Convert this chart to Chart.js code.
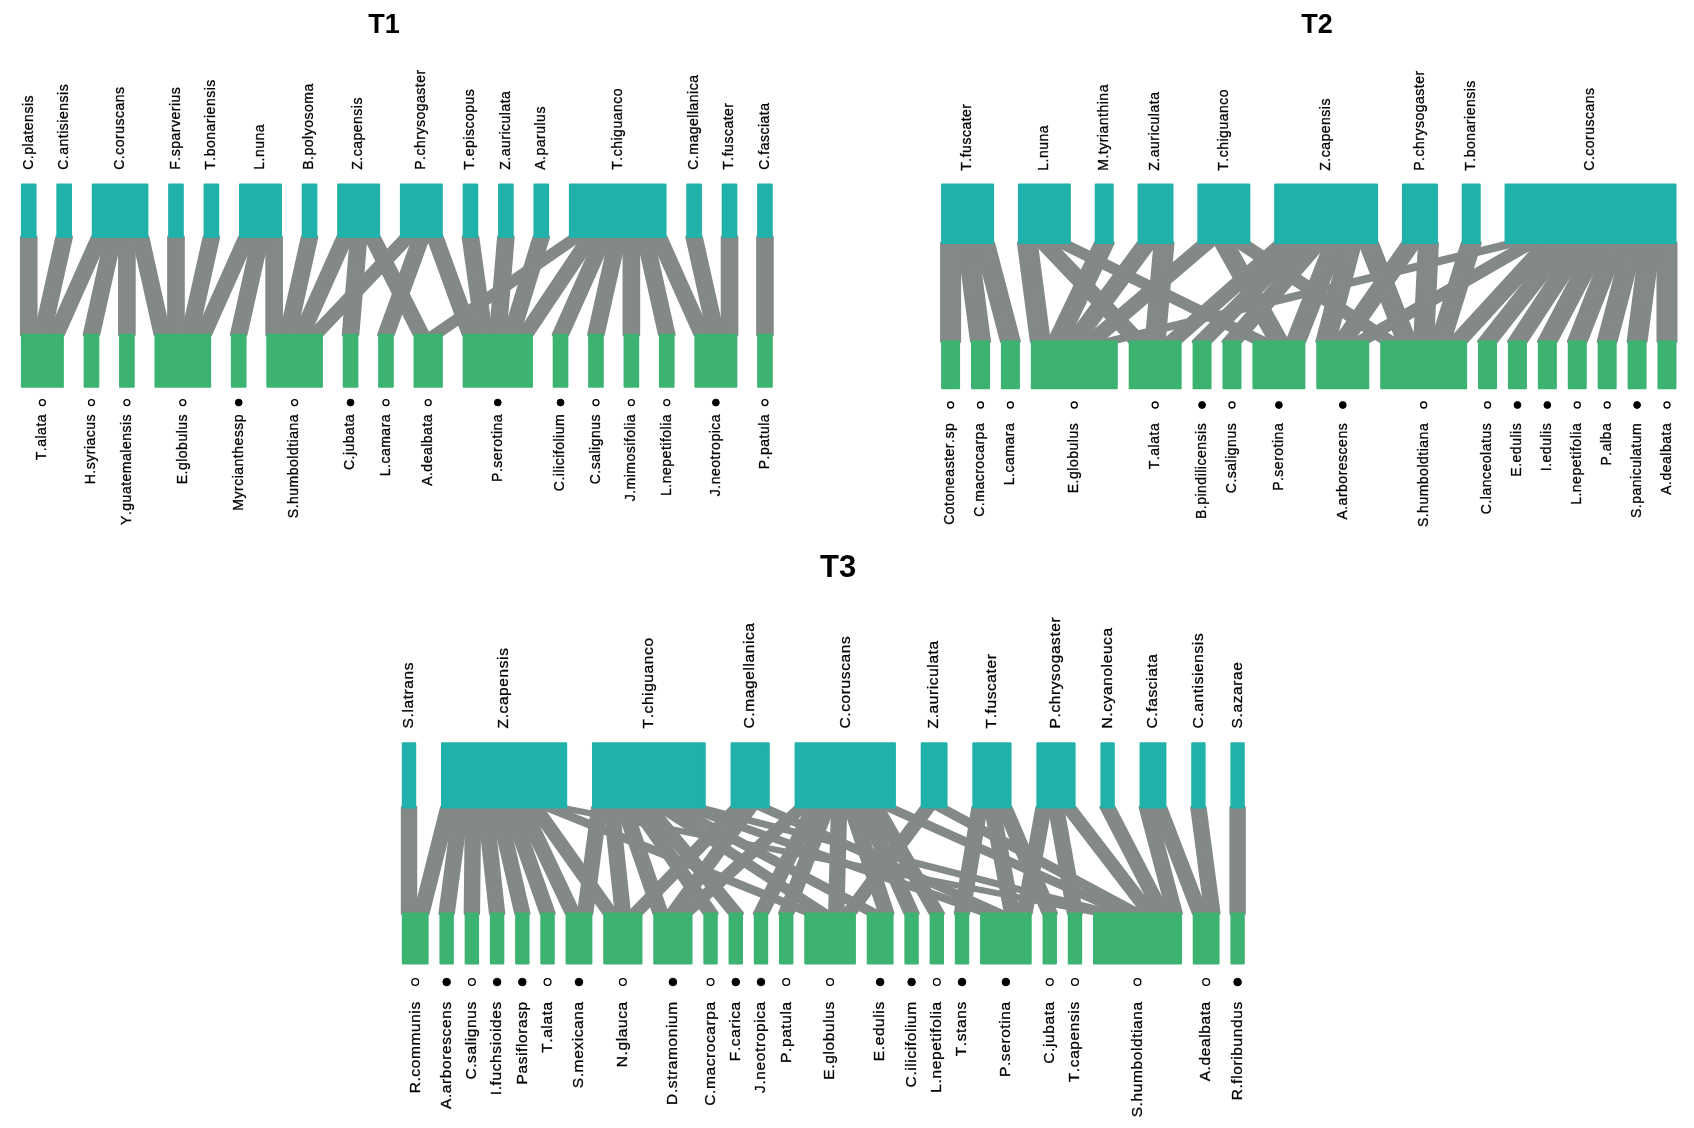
<!DOCTYPE html>
<html>
<head>
<meta charset="utf-8">
<title>Bipartite webs T1-T3</title>
<script src="https://cdn.jsdelivr.net/npm/chart.js@4.4.0/dist/chart.umd.min.js"></script>
<style>
  html, body { margin: 0; padding: 0; background: #ffffff; }
  canvas { display: block; }
</style>
</head>
<body>
<canvas id="web" width="1694" height="1128"></canvas>
<script>
// ---------------- T1 ----------------
const t1Upper = ["C.platensis", "C.antisiensis", "C.coruscans", "F.sparverius", "T.bonariensis", "L.nuna",
  "B.polyosoma", "Z.capensis", "P.chrysogaster", "T.episcopus", "Z.auriculata", "A.parulus",
  "T.chiguanco", "C.magellanica", "T.fuscater", "C.fasciata"];
const t1Lower = ["T.alata", "H.syriacus", "Y.guatemalensis", "E.globulus", "Myrcianthessp", "S.humboldtiana",
  "C.jubata", "L.camara", "A.dealbata", "P.serotina", "C.ilicifolium", "C.salignus", "J.mimosifolia",
  "L.nepetifolia", "J.neotropica", "P.patula"];
const t1LowerFilled = [0, 0, 0, 0, 1, 0, 1, 0, 0, 1, 1, 0, 0, 0, 1, 0];
const t1Links = [
  ["C.platensis", ["T.alata"]],
  ["C.antisiensis", ["T.alata"]],
  ["C.coruscans", ["T.alata", "H.syriacus", "Y.guatemalensis", "E.globulus"]],
  ["F.sparverius", ["E.globulus"]],
  ["T.bonariensis", ["E.globulus"]],
  ["L.nuna", ["E.globulus", "Myrcianthessp", "S.humboldtiana"]],
  ["B.polyosoma", ["S.humboldtiana"]],
  ["Z.capensis", ["S.humboldtiana", "C.jubata", "A.dealbata"]],
  ["P.chrysogaster", ["S.humboldtiana", "L.camara", "P.serotina"]],
  ["T.episcopus", ["P.serotina"]],
  ["Z.auriculata", ["P.serotina"]],
  ["A.parulus", ["P.serotina"]],
  ["T.chiguanco", ["A.dealbata", "P.serotina", "C.ilicifolium", "C.salignus", "J.mimosifolia", "L.nepetifolia", "J.neotropica"]],
  ["C.magellanica", ["J.neotropica"]],
  ["T.fuscater", ["J.neotropica"]],
  ["C.fasciata", ["P.patula"]]
];

// ---------------- T2 ----------------
const t2Upper = ["T.fuscater", "L.nuna", "M.tyrianthina", "Z.auriculata", "T.chiguanco", "Z.capensis",
  "P.chrysogaster", "T.bonariensis", "C.coruscans"];
const t2Lower = ["Cotoneaster.sp", "C.macrocarpa", "L.camara", "E.globulus", "T.alata", "B.pindilicensis",
  "C.salignus", "P.serotina", "A.arborescens", "S.humboldtiana", "C.lanceolatus", "E.edulis", "I.edulis",
  "L.nepetifolia", "P.alba", "S.paniculatum", "A.dealbata"];
const t2LowerFilled = [0, 0, 0, 0, 0, 1, 0, 1, 1, 0, 0, 1, 1, 0, 0, 1, 0];
const t2Links = [
  ["T.fuscater", ["Cotoneaster.sp", "C.macrocarpa", "L.camara"]],
  ["L.nuna", ["E.globulus", "T.alata", "P.serotina"]],
  ["M.tyrianthina", ["E.globulus"]],
  ["Z.auriculata", ["E.globulus", "T.alata"]],
  ["T.chiguanco", ["E.globulus", "P.serotina", "S.humboldtiana"]],
  ["Z.capensis", ["T.alata", "B.pindilicensis", "C.salignus", "P.serotina", "A.arborescens", "S.humboldtiana"]],
  ["P.chrysogaster", ["A.arborescens", "S.humboldtiana"]],
  ["T.bonariensis", ["S.humboldtiana"]],
  ["C.coruscans", ["E.globulus", "A.arborescens", "S.humboldtiana", "C.lanceolatus", "E.edulis", "I.edulis",
    "L.nepetifolia", "P.alba", "S.paniculatum", "A.dealbata"]]
];

// ---------------- T3 ----------------
const t3Upper = ["S.latrans", "Z.capensis", "T.chiguanco", "C.magellanica", "C.coruscans", "Z.auriculata",
  "T.fuscater", "P.chrysogaster", "N.cyanoleuca", "C.fasciata", "C.antisiensis", "S.azarae"];
const t3Lower = ["R.communis", "A.arborescens", "C.salignus", "I.fuchsioides", "Pasiflorasp", "T.alata",
  "S.mexicana", "N.glauca", "D.stramonium", "C.macrocarpa", "F.carica", "J.neotropica", "P.patula",
  "E.globulus", "E.edulis", "C.ilicifolium", "L.nepetifolia", "T.stans", "P.serotina", "C.jubata",
  "T.capensis", "S.humboldtiana", "A.dealbata", "R.floribundus"];
const t3LowerFilled = [0, 1, 0, 1, 1, 0, 1, 0, 1, 0, 1, 1, 0, 0, 1, 1, 0, 1, 1, 0, 0, 0, 0, 1];
const t3Links = [
  ["S.latrans", ["R.communis"]],
  ["Z.capensis", ["R.communis", "A.arborescens", "C.salignus", "I.fuchsioides", "Pasiflorasp", "T.alata",
    "S.mexicana", "N.glauca", "E.globulus", "S.humboldtiana"]],
  ["T.chiguanco", ["S.mexicana", "N.glauca", "D.stramonium", "C.macrocarpa", "F.carica", "E.globulus",
    "E.edulis", "P.serotina", "S.humboldtiana"]],
  ["C.magellanica", ["N.glauca", "D.stramonium", "P.serotina"]],
  ["C.coruscans", ["D.stramonium", "J.neotropica", "P.patula", "E.globulus", "E.edulis", "C.ilicifolium",
    "L.nepetifolia", "S.humboldtiana"]],
  ["Z.auriculata", ["E.globulus", "S.humboldtiana"]],
  ["T.fuscater", ["T.stans", "P.serotina", "C.jubata"]],
  ["P.chrysogaster", ["P.serotina", "T.capensis", "S.humboldtiana"]],
  ["N.cyanoleuca", ["S.humboldtiana"]],
  ["C.fasciata", ["S.humboldtiana", "A.dealbata"]],
  ["C.antisiensis", ["A.dealbata"]],
  ["S.azarae", ["R.floribundus"]]
];

// ---------------- panel frames (placement and type sizes) ----------------
const frames = [
  { title: "T1", upper: t1Upper, lower: t1Lower, filled: t1LowerFilled, links: t1Links,
    x0: 16.7, x1: 771.3, unit: 13.75, titleX: 381, titleY: 20, titleSize: 27,
    upLabelY: 166, upBox: [181, 234], lowBox: [332.5, 385], markY: 401, lowLabelY: 413,
    font: 14, spacing: 0.5, markR: 3.4 },
  { title: "T2", upper: t2Upper, lower: t2Lower, filled: t2LowerFilled, links: t2Links,
    x0: 942.7, x1: 1680.7, unit: 17.1, titleX: 1320, titleY: 20, titleSize: 27,
    upLabelY: 167, upBox: [181, 240], lowBox: [339.5, 386.5], markY: 403.5, lowLabelY: 422,
    font: 14, spacing: 0.5, markR: 3.4 },
  { title: "T3", upper: t3Upper, lower: t3Lower, filled: t3LowerFilled, links: t3Links,
    x0: 400, x1: 1246.3, unit: 12.5, titleX: 838, titleY: 569, titleSize: 31,
    upLabelY: 730, upBox: [745, 809.7], lowBox: [916.7, 967.3], markY: 986, lowLabelY: 1006,
    font: 15.5, spacing: 0.6, markR: 3.8 }
];

const UPPER_COLOR = "#20B2AA";
const LOWER_COLOR = "#3CB371";
const LINK_COLOR = "#838987";
const BOX_EDGE = 2;
const LINK_EDGE = 4;

// Lay boxes of one level side by side; width follows the number of links.
function placeLevel(degrees, x0, x1, unit) {
  const total = degrees.reduce((a, b) => a + b, 0);
  const gap = (x1 - x0 - total * unit) / (degrees.length - 1);
  let x = x0;
  return degrees.map(d => {
    const box = { left: x, right: x + d * unit };
    x += d * unit + gap;
    return box;
  });
}

function rectPoints(l, r, t, b) {
  return [{ x: l, y: t }, { x: r, y: t }, { x: r, y: b }, { x: l, y: b }, { x: l, y: t }];
}

function polygonDataset(points, color, edge, order) {
  return {
    type: "line", data: points, fill: "shape", backgroundColor: color,
    borderColor: color, borderWidth: edge, borderJoinStyle: "round", borderCapStyle: "round",
    pointRadius: 0, pointHoverRadius: 0, tension: 0, order: order
  };
}

const datasets = [];
const textItems = [];

frames.forEach(f => {
  const edges = [];
  f.links.forEach(([up, partners]) => {
    partners.forEach(low => edges.push({ ti: f.upper.indexOf(up), bi: f.lower.indexOf(low) }));
  });
  const upDeg = f.upper.map((_, i) => edges.filter(e => e.ti === i).length);
  const lowDeg = f.lower.map((_, j) => edges.filter(e => e.bi === j).length);
  const upBoxes = placeLevel(upDeg, f.x0, f.x1, f.unit);
  const lowBoxes = placeLevel(lowDeg, f.x0, f.x1, f.unit);

  // slot of each link inside its upper box (ordered by lower species) and lower box (ordered by upper species)
  const upSlot = f.upper.map(() => 0);
  const lowSlot = f.lower.map(() => 0);
  [...edges].sort((a, b) => a.ti - b.ti || a.bi - b.bi)
    .forEach(e => { e.ux = upBoxes[e.ti].left + f.unit * upSlot[e.ti]++; });
  [...edges].sort((a, b) => a.bi - b.bi || a.ti - b.ti)
    .forEach(e => { e.lx = lowBoxes[e.bi].left + f.unit * lowSlot[e.bi]++; });

  // links
  edges.forEach(e => {
    const yT = f.upBox[1], yB = f.lowBox[0];
    datasets.push(polygonDataset([
      { x: e.ux, y: yT }, { x: e.ux + f.unit, y: yT },
      { x: e.lx + f.unit, y: yB }, { x: e.lx, y: yB }, { x: e.ux, y: yT }
    ], LINK_COLOR, LINK_EDGE, 3));
  });
  // boxes
  upBoxes.forEach(b => datasets.push(polygonDataset(
    rectPoints(b.left, b.right, f.upBox[0], f.upBox[1]), UPPER_COLOR, BOX_EDGE, 2)));
  lowBoxes.forEach(b => datasets.push(polygonDataset(
    rectPoints(b.left, b.right, f.lowBox[0], f.lowBox[1]), LOWER_COLOR, BOX_EDGE, 2)));

  // open / filled markers under the lower boxes
  const openPts = [], fullPts = [];
  lowBoxes.forEach((b, j) => {
    const p = { x: (b.left + b.right) / 2, y: f.markY };
    (f.filled[j] ? fullPts : openPts).push(p);
  });
  datasets.push({ type: "line", data: openPts, showLine: false, pointRadius: f.markR - 0.4,
    pointBackgroundColor: "#ffffff", pointBorderColor: "#000000", pointBorderWidth: 1.3, order: 0 });
  datasets.push({ type: "line", data: fullPts, showLine: false, pointRadius: f.markR,
    pointBackgroundColor: "#000000", pointBorderColor: "#000000", pointBorderWidth: 1, order: 0 });

  textItems.push({ kind: "title", text: f.title, x: f.titleX, y: f.titleY, size: f.titleSize });
  upBoxes.forEach((b, i) => textItems.push({ kind: "up", text: f.upper[i], x: (b.left + b.right) / 2,
    y: f.upLabelY, size: f.font, spacing: f.spacing }));
  lowBoxes.forEach((b, j) => textItems.push({ kind: "low", text: f.lower[j], x: (b.left + b.right) / 2,
    y: f.lowLabelY, size: f.font, spacing: f.spacing }));
});

// writes a string glyph by glyph with a little tracking
function spacedText(ctx, text, spacing, align) {
  const chars = [...text];
  const widths = chars.map(c => ctx.measureText(c).width);
  const total = widths.reduce((a, b) => a + b, 0) + spacing * (chars.length - 1);
  let x = align === "left" ? 0 : -total;
  ctx.textAlign = "left";
  chars.forEach((c, i) => {
    ctx.fillText(c, x, 0);
    ctx.strokeText(c, x, 0);
    x += widths[i] + spacing;
  });
}

// species names and panel titles, placed through the chart scales
const labelPlugin = {
  id: "webLabels",
  afterDraw(chart) {
    const { ctx, scales: { x, y } } = chart;
    ctx.save();
    ctx.fillStyle = "#000000";
    ctx.strokeStyle = "#000000";
    ctx.lineWidth = 0.3;
    textItems.forEach(t => {
      const px = x.getPixelForValue(t.x), py = y.getPixelForValue(t.y);
      if (t.kind === "title") {
        ctx.font = `bold ${t.size}px "Liberation Sans", Arial, sans-serif`;
        ctx.textAlign = "center";
        ctx.textBaseline = "middle";
        ctx.fillText(t.text, px, py);
        return;
      }
      ctx.save();
      ctx.translate(px, py);
      ctx.rotate(-Math.PI / 2);
      ctx.font = `${t.size}px "Liberation Sans", Arial, sans-serif`;
      ctx.textBaseline = "middle";
      spacedText(ctx, t.text, t.spacing, t.kind === "up" ? "left" : "right");
      ctx.restore();
    });
    ctx.restore();
  }
};

new Chart(document.getElementById("web"), {
  type: "line",
  data: { datasets: datasets },
  options: {
    responsive: false,
    devicePixelRatio: 1,
    animation: false,
    events: [],
    layout: { padding: 0 },
    scales: {
      x: { type: "linear", min: 0, max: 1694, display: false },
      y: { type: "linear", min: 0, max: 1128, reverse: true, display: false }
    },
    plugins: { legend: { display: false }, tooltip: { enabled: false }, title: { display: false } }
  },
  plugins: [labelPlugin]
});
</script>
</body>
</html>
